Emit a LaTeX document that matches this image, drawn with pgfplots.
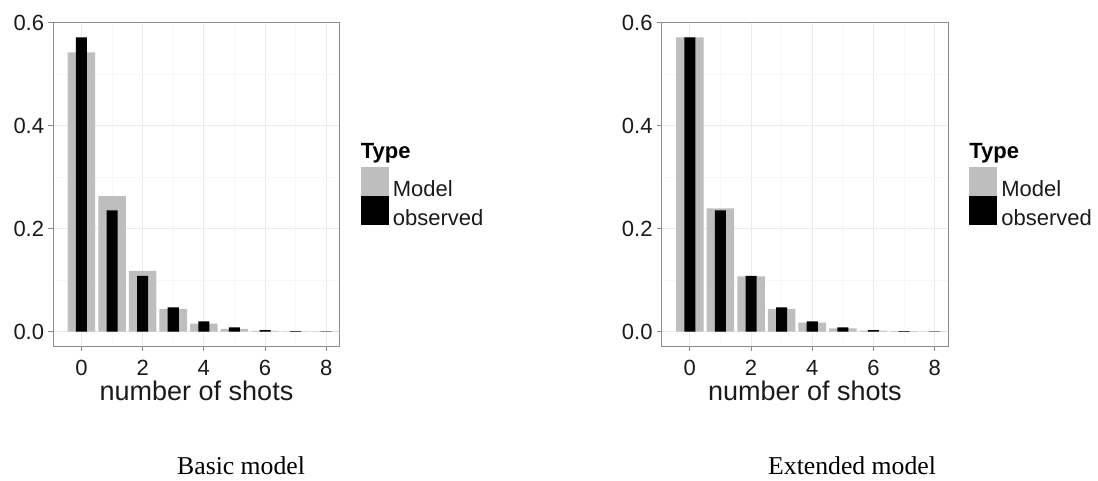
\documentclass[border=0pt]{standalone}
\usepackage{pgfplots}
\pgfplotsset{compat=1.18}
\usepackage{fontspec}
\setmainfont{Liberation Sans}
\newfontfamily\capfont{Liberation Serif}
\definecolor{barg}{HTML}{BEBEBE}
\definecolor{gmaj}{HTML}{EBEBEB}
\definecolor{gmin}{HTML}{F7F7F7}
\definecolor{frm}{HTML}{8C8C8C}
\definecolor{txt}{HTML}{1A1A1A}

\pgfplotstableread{
x model observed
0 0.542 0.571
1 0.263 0.2355
2 0.118 0.108
3 0.044 0.047
4 0.0155 0.020
5 0.005 0.008
6 0.0015 0.0028
7 0.0005 0.0008
8 0.0002 0.0003
}\basic

\pgfplotstableread{
x model observed
0 0.571 0.571
1 0.239 0.2355
2 0.107 0.108
3 0.044 0.047
4 0.0175 0.020
5 0.006 0.008
6 0.002 0.0028
7 0.0007 0.0008
8 0.0003 0.0003
}\extended

\pgfplotsset{
  keyimg/.style={legend image code/.code={\fill[##1] (0pt,-7pt) rectangle (28pt,22pt);}},
  ggstyle/.style={
    scale only axis, width=286.4pt, height=324pt,
    xmin=-0.92, xmax=8.44, ymin=-0.028, ymax=0.601,
    clip=false,
    xtick={0,2,4,6,8}, minor xtick={1,3,5,7},
    ytick={0,0.2,0.4,0.6}, minor ytick={0.1,0.3,0.5},
    yticklabels={0.0,0.2,0.4,0.6},
    /pgf/number format/assume math mode=true,
    grid=both,
    major grid style={gmaj, line width=0.8pt},
    minor grid style={gmin, line width=0.8pt},
    axis line style={frm, line width=0.8pt},
    tick align=outside, tick pos=left,
    major tick length=5pt, minor tick length=0pt,
    tick style={frm, line width=0.8pt},
    ticklabel style={font=\fontsize{22}{22}\selectfont, text=txt},
    xticklabel style={inner sep=0pt, anchor=north, yshift=-9pt},
    yticklabel style={inner sep=0pt, anchor=east, xshift=-4pt},
    xlabel={number of shots},
    xlabel style={font=\fontsize{27}{27}\selectfont, text=txt, at={(axis description cs:0.5,0)}, anchor=base, yshift=-55pt, inner sep=0pt},
    legend style={at={(axis description cs:1.0733,0.5525)}, anchor=north west,
      draw=none, fill=none, inner sep=0pt, row sep=-2pt, column sep=4pt,
      font=\fontsize{22}{22}\selectfont, text=txt, nodes={inner sep=0pt}},
    legend cell align=left,
  }
}

\begin{document}
\begin{tikzpicture}
\path[use as bounding box] (0,0) rectangle (1098pt,481pt);
\begin{axis}[ggstyle, at={(53.3pt,135pt)}, anchor=south west]
\addplot[ybar, bar width=0.9, bar shift=0pt, fill=barg, draw=none, keyimg] table[x=x, y=model] {\basic};
\addlegendentry{Model}
\addplot[ybar, bar width=0.36, bar shift=0pt, fill=black, draw=none, keyimg] table[x=x, y=observed] {\basic};
\addlegendentry{observed}
\node[anchor=base west, inner sep=0pt, font=\bfseries\fontsize{22}{22}\selectfont, text=black] at (axis description cs:1.0733,0.5802) {Type};
\end{axis}
\begin{axis}[ggstyle, at={(661.7pt,135pt)}, anchor=south west]
\addplot[ybar, bar width=0.9, bar shift=0pt, fill=barg, draw=none, keyimg] table[x=x, y=model] {\extended};
\addlegendentry{Model}
\addplot[ybar, bar width=0.36, bar shift=0pt, fill=black, draw=none, keyimg] table[x=x, y=observed] {\extended};
\addlegendentry{observed}
\node[anchor=base west, inner sep=0pt, font=\bfseries\fontsize{22}{22}\selectfont, text=black] at (axis description cs:1.0733,0.5802) {Type};
\end{axis}
\node[anchor=base west, inner sep=0pt, font=\capfont\fontsize{25.7}{26}\selectfont] at (177pt,6pt) {Basic model};
\node[anchor=base west, inner sep=0pt, font=\capfont\fontsize{25.7}{26}\selectfont] at (768pt,6pt) {Extended model};
\end{tikzpicture}
\end{document}
